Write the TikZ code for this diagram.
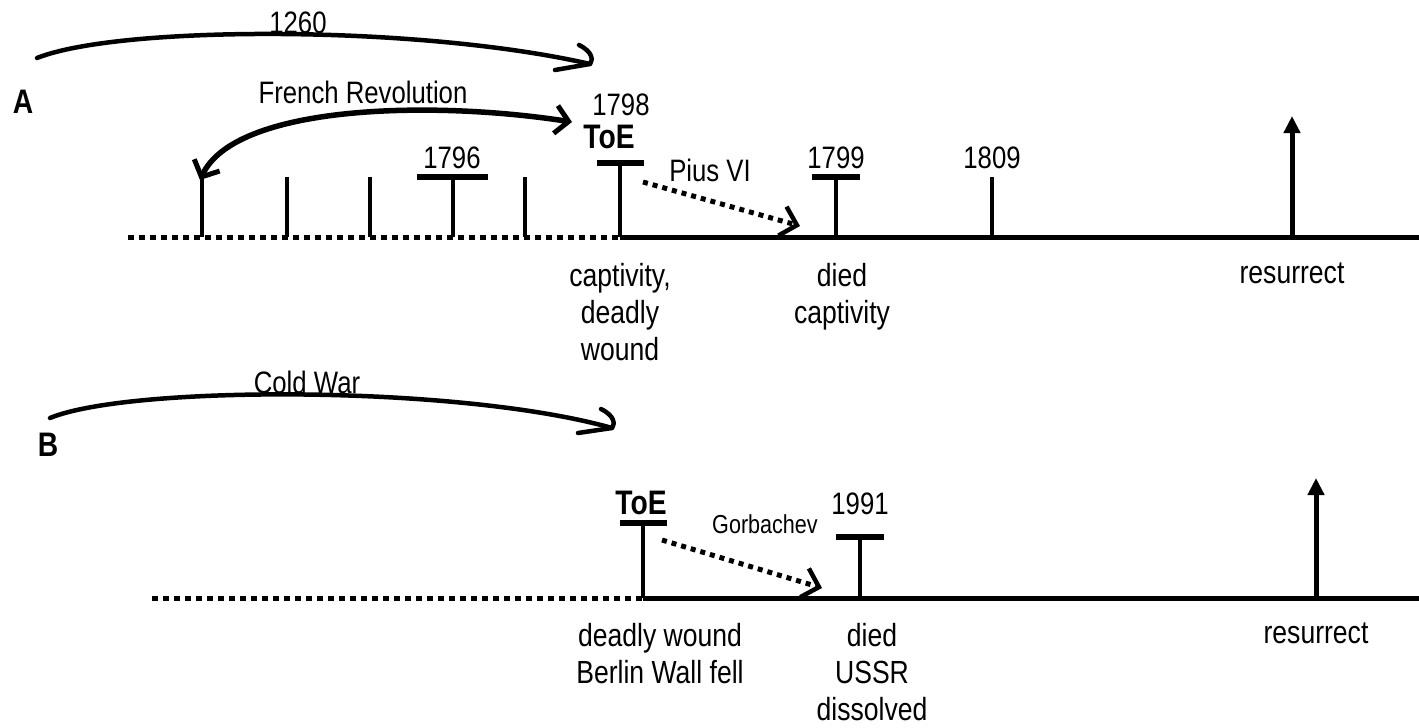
\documentclass[tikz,border=0pt]{standalone}
\usepackage{fontspec}
\setmainfont[FakeStretch=0.83]{Liberation Sans}
\usetikzlibrary{arrows.meta}
\begin{document}
\begin{tikzpicture}[x=1pt,y=-1pt,
  axis/.style={line width=5pt},
  dotline/.style={line width=5pt, dash pattern=on 6pt off 5pt},
  tickline/.style={line width=4.5pt},
  tbar/.style={line width=6pt},
  lbl/.style={font=\fontsize{31}{35}\selectfont, inner sep=0pt, anchor=base},
  boldlbl/.style={font=\fontsize{34}{38}\selectfont\bfseries, inner sep=0pt, anchor=base},
  smalllbl/.style={font=\fontsize{26}{30}\selectfont, inner sep=0pt, anchor=base},
  sublbl/.style={font=\fontsize{32}{37}\selectfont, inner sep=0pt, anchor=north, align=center},
  dotarrow/.style={line width=5pt, dash pattern=on 5pt off 5pt, -{Straight Barb[length=15pt,width=30pt,line width=4.5pt]}},
  uparrow/.style={line width=5pt, -{Triangle[length=17pt,width=16pt]}},
  hand/.style={line width=4.5pt, line cap=round, line join=round},
  fr/.style={line width=5.5pt, {Straight Barb[length=13pt,width=28pt,line width=5pt]}-{Straight Barb[length=13pt,width=28pt,line width=5pt]}}
]
\useasboundingbox (0,0) rectangle (1419,728);

% ---------------- Timeline A ----------------
\coordinate (aS) at (128,237);
\coordinate (aM) at (620,237);
\coordinate (aE) at (1419,237);
\draw[dotline] (aS) -- (aM);
\draw[axis] (aM) -- (aE);

% ticks
\foreach \n/\x in {t1/202,t2/287,t3/370,t5/525,t9/992}{
  \coordinate (\n b) at (\x,237);
  \coordinate (\n t) at (\x,177);
  \draw[tickline] (\n b) -- (\n t);
}
% T markers
\coordinate (t4b) at (453,237); \coordinate (t4t) at (453,177);
\coordinate (t4l) at (417,177); \coordinate (t4r) at (488,177);
\draw[tickline] (t4b) -- (t4t); \draw[tbar] (t4l) -- (t4r);

\coordinate (t6b) at (620,237); \coordinate (t6t) at (620,163);
\coordinate (t6l) at (597,163); \coordinate (t6r) at (644,163);
\draw[tickline] (t6b) -- (t6t); \draw[tbar] (t6l) -- (t6r);

\coordinate (t7b) at (836,237); \coordinate (t7t) at (836,177);
\coordinate (t7l) at (812,177); \coordinate (t7r) at (860,177);
\draw[tickline] (t7b) -- (t7t); \draw[tbar] (t7l) -- (t7r);

% resurrect arrow A
\coordinate (rAb) at (1292,237);
\coordinate (rAt) at (1292,116);
\draw[uparrow] (rAb) -- (rAt);

% labels A
\node[boldlbl] (A) at (23,113) {A};
\node[lbl] (l1260) at (298,33) {1260};
\node[lbl] (lfr) at (363,103) {French Revolution};
\node[lbl] (l1798) at (621,115) {1798};
\node[boldlbl] (toeA) at (609,148) {ToE};
\node[lbl] (l1796) at (452,168) {1796};
\node[lbl] (l1799) at (836,168) {1799};
\node[lbl] (l1809) at (992,168) {1809};
\node[lbl] (pius) at (710,181) {Pius VI};
\node[sublbl] (capt) at (620,263) {captivity,\\deadly\\wound};
\node[sublbl] (diedA) at (842,263) {died\\captivity};
\node[sublbl] (resA) at (1292,263) {resurrect};

% 1260 hand-drawn arc
\coordinate (h1s) at (37,58);
\coordinate (h1e) at (590,64);
\draw[hand] (h1s) .. controls (120,25) and (420,25) .. (h1e);
\draw[hand] (579,45) .. controls (593,52) and (593,60) .. (h1e) -- (555,70);

% French Revolution double arrow
\coordinate (frl) at (200,180);
\coordinate (frr) at (572,122);
\draw[fr] (frl) .. controls (235,105) and (430,100) .. (frr);

% Pius VI dotted arrow
\coordinate (pa) at (643,182);
\coordinate (pb) at (800,226);
\draw[dotarrow] (pa) -- (pb);

% ---------------- Timeline B ----------------
\coordinate (bS) at (152,598);
\coordinate (bM) at (643,598);
\coordinate (bE) at (1419,598);
\draw[dotline] (bS) -- (bM);
\draw[axis] (bM) -- (bE);

\coordinate (u1b) at (643,598); \coordinate (u1t) at (643,523);
\coordinate (u1l) at (620,523); \coordinate (u1r) at (667,523);
\draw[tickline] (u1b) -- (u1t); \draw[tbar] (u1l) -- (u1r);

\coordinate (u2b) at (860,598); \coordinate (u2t) at (860,537);
\coordinate (u2l) at (836,537); \coordinate (u2r) at (884,537);
\draw[tickline] (u2b) -- (u2t); \draw[tbar] (u2l) -- (u2r);

\coordinate (rBb) at (1316,598);
\coordinate (rBt) at (1316,478);
\draw[uparrow] (rBb) -- (rBt);

\node[boldlbl] (B) at (48,456) {B};
\node[lbl] (cw) at (307,393) {Cold War};
\node[boldlbl] (toeB) at (641,514) {ToE};
\node[lbl] (l1991) at (860,514) {1991};
\node[smalllbl] (gorb) at (765,533) {Gorbachev};
\node[sublbl] (dw) at (660,623) {deadly wound\\Berlin Wall fell};
\node[sublbl] (diedB) at (872,623) {died\\USSR\\dissolved};
\node[sublbl] (resB) at (1316,623) {resurrect};

% Cold War hand-drawn arc
\coordinate (h2s) at (50,418);
\coordinate (h2e) at (612,428);
\draw[hand] (h2s) .. controls (130,385) and (460,385) .. (h2e);
\draw[hand] (601,409) .. controls (615,416) and (615,424) .. (h2e) -- (578,433);

% Gorbachev dotted arrow
\coordinate (ga) at (662,540);
\coordinate (gb) at (822,588);
\draw[dotarrow] (ga) -- (gb);
\end{tikzpicture}
\end{document}
